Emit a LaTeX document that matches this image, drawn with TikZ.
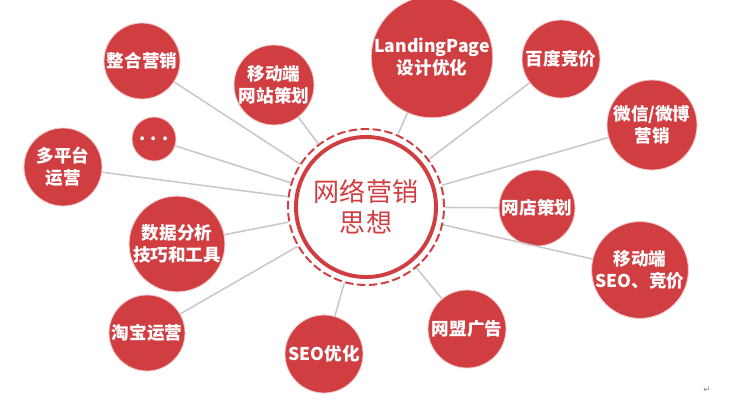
\documentclass[tikz,border=0pt]{standalone}
\usepackage{fontspec}
\setmainfont{Noto Sans CJK SC}
\newfontfamily\symfont{DejaVu Sans}
\definecolor{mkred}{RGB}{208,62,66}
\definecolor{mkline}{RGB}{200,200,200}
\definecolor{mkrim}{RGB}{242,200,200}

\begin{document}
\begin{tikzpicture}[x=0.025cm, y=-0.025cm,
    topic/.style={circle, fill=mkred, draw=mkrim, line width=0.6pt, text=white,
      inner sep=0pt, align=center, font=\fontsize{12.5}{15.5}\selectfont\bfseries},
    link/.style={mkline, line width=1.1pt}]
    \useasboundingbox (0,0) rectangle (740,400);

    % 中心
    \node[circle, draw=mkred, dashed, dash pattern=on 6pt off 2.5pt, line width=1.4pt,
      minimum size=3.9cm, inner sep=0pt] (core) at (366,207) {};
    \node[circle, draw=mkred, line width=2.8pt, minimum size=3.5cm, inner sep=0pt,
      text=mkred, align=center, font=\fontsize{18.5}{22}\selectfont] (coretext) at (core) {网络营销\\思想};

    % 周围的圆
    \node[topic, minimum size=1.9cm] (zhenghe) at (142,61) {整合营销};
    \node[topic, minimum size=1.95cm] (mobsite) at (274,85) {移动端\\网站策划};
    \node[topic, minimum size=2.6cm] (landing) at (432,57) {LandingPage\\设计优化};
    \node[topic, minimum size=1.95cm] (baidu) at (561,59) {百度竞价};
    \node[topic, minimum size=2.25cm] (weixin) at (652,125) {微信/微博\\营销};
    \node[topic, minimum size=1.9cm] (wangdian) at (537,208) {网店策划};
    \node[topic, minimum size=2.25cm] (mobseo) at (640,270) {移动端\\SEO、竞价};
    \node[topic, minimum size=1.95cm] (wangmeng) at (467,329) {网盟广告};
    \node[topic, minimum size=1.95cm] (seo) at (324,354) {SEO优化};
    \node[topic, minimum size=1.9cm] (taobao) at (147,333) {淘宝运营};
    \node[topic, minimum size=2.3cm] (shuju) at (177,244) {数据分析\\技巧和工具};
    \node[topic, minimum size=1.95cm] (duopt) at (63,167) {多平台\\运营};
    \node[topic, minimum size=1.1cm] (more) at (154,139) {.\hspace{4pt}.\hspace{4pt}.};

    % 连线
    \draw[link] (zhenghe) -- (core);
    \draw[link] (mobsite) -- (core);
    \draw[link] (landing) -- (core);
    \draw[link] (baidu) -- (core);
    \draw[link] (weixin) -- (core);
    \draw[link] (wangdian) -- (core);
    \draw[link] (mobseo) -- (core);
    \draw[link] (wangmeng) -- (core);
    \draw[link] (seo) -- (core);
    \draw[link] (taobao) -- (core);
    \draw[link] (shuju) -- (core);
    \draw[link] (duopt) -- (core);
    \draw[link] (more) -- (core);

    \node[text=gray, font=\symfont\fontsize{6}{6}\selectfont] (mark) at (707,390) {↵};
  \end{tikzpicture}
\end{document}
